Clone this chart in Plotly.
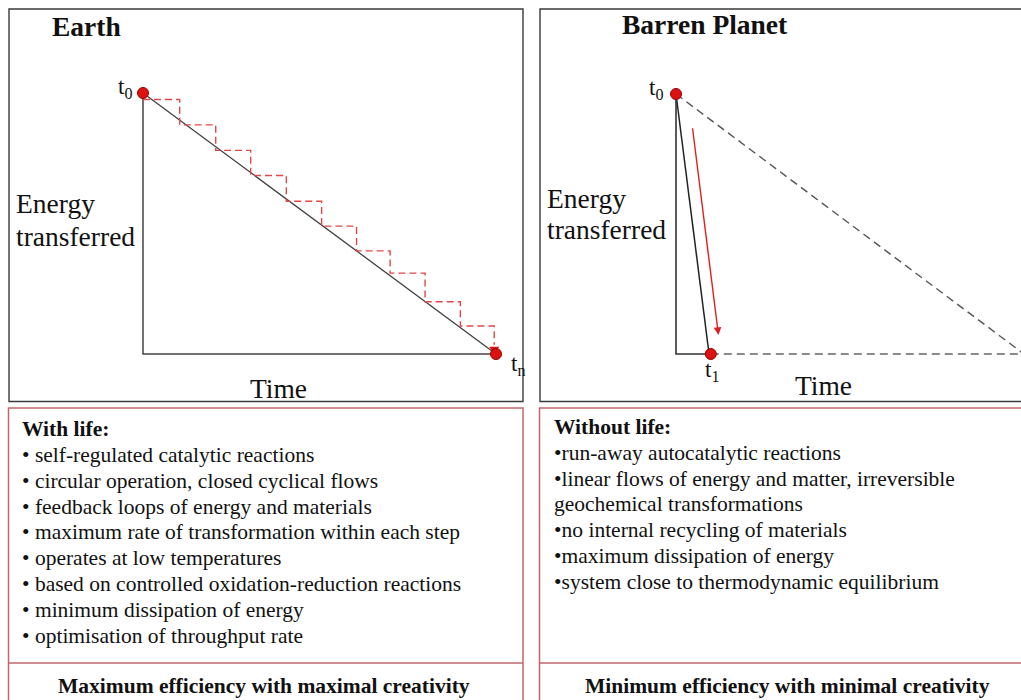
import plotly.graph_objects as go

W, H = 1021, 700

# ---------------- data ----------------
# Earth panel (time 0..10, energy 10..0)
earth_t0 = (0.0, 10.0)
earth_tn = (10.0, 0.0)
earth_step_x = [1.04, 2.06, 3.05, 4.06, 5.06, 6.05, 7.0, 7.99, 8.99, 9.95]
earth_step_y = [9.75, 8.78, 7.8, 6.84, 5.85, 4.9, 3.95, 3.1, 2.0, 1.07]
earth_arrow_end_y = 0.35
earth_arrow_tip_y = 0.19

# Barren planet panel
barren_t0 = (0.0, 10.0)
barren_t1 = (1.0, 0.0)
barren_far = (10.0, 0.0)
barren_arrow_start = (0.47, 8.74)
barren_arrow_end = (1.22, 0.73)

with_life_title = "With life:"
with_life_items = [
    "• self-regulated catalytic reactions",
    "• circular operation, closed cyclical flows",
    "• feedback loops of energy and materials",
    "• maximum rate of transformation within each step",
    "• operates at low temperatures",
    "• based on controlled oxidation-reduction reactions",
    "• minimum dissipation of energy",
    "• optimisation of throughput rate",
]
without_life_title = "Without life:"
without_life_items = [
    "•run-away autocatalytic reactions",
    "•linear flows of energy and matter, irreversible",
    "geochemical transformations",
    "•no internal recycling of materials",
    "•maximum dissipation of energy",
    "•system close to thermodynamic equilibrium",
]
left_summary = "Maximum efficiency with maximal creativity"
right_summary = "Minimum efficiency with minimal creativity"

# ---------------- styles ----------------
FONT = "Liberation Serif"
TXT = "#111111"
RED = "#dd1111"
RED_DASH = "#e04848"
BOX_TOP = "#3a3a3a"
BOX_BOT = "#c4656e"
BODY = 21.5
BIG = 27.5


def px(x):
    return x / W


def py(y):
    return 1 - y / H


fig = go.Figure()

# ---- Earth panel traces (axes x / y) ----
lx0, lsx = 143.0, 35.3
ly0, lsy = 354.0, 26.1

fig.add_trace(go.Scatter(
    x=[earth_t0[0], earth_t0[0], earth_tn[0]], y=[earth_t0[1], 0, earth_tn[1]],
    mode="lines", line=dict(color="#444444", width=1.5), xaxis="x", yaxis="y",
    hoverinfo="skip"))
fig.add_trace(go.Scatter(
    x=[earth_t0[0], earth_tn[0]], y=[earth_t0[1], earth_tn[1]],
    mode="lines", line=dict(color="#404040", width=1.3), xaxis="x", yaxis="y",
    hoverinfo="skip"))

sx, sy = [earth_t0[0]], [earth_step_y[0]]
for i in range(len(earth_step_x)):
    sx += [earth_step_x[i], earth_step_x[i]]
    nxt = earth_step_y[i + 1] if i + 1 < len(earth_step_y) else earth_arrow_end_y
    sy += [earth_step_y[i], nxt]
fig.add_trace(go.Scatter(
    x=sx, y=sy, mode="lines",
    line=dict(color=RED_DASH, width=1.4, dash="7px,4px"), xaxis="x", yaxis="y",
    hoverinfo="skip"))
fig.add_trace(go.Scatter(
    x=[earth_step_x[-1]], y=[earth_arrow_tip_y], mode="markers",
    marker=dict(symbol="triangle-down", size=9, color=RED, line=dict(width=0)),
    xaxis="x", yaxis="y", cliponaxis=False, hoverinfo="skip"))
fig.add_trace(go.Scatter(
    x=[earth_t0[0], earth_tn[0]], y=[earth_t0[1], earth_tn[1]], mode="markers",
    marker=dict(size=11, color=RED, line=dict(color="#990000", width=1)),
    xaxis="x", yaxis="y", cliponaxis=False, hoverinfo="skip"))

# ---- Barren planet traces (axes x2 / y2) ----
rx0, rsx = 676.0, 34.8
ry0, rsy = 354.0, 26.0

fig.add_trace(go.Scatter(
    x=[barren_t1[0], barren_far[0]], y=[barren_t1[1], barren_far[1]],
    mode="lines", line=dict(color="#666666", width=1.5, dash="8px,5px"),
    xaxis="x2", yaxis="y2", hoverinfo="skip"))
fig.add_trace(go.Scatter(
    x=[barren_t0[0], barren_far[0]], y=[barren_t0[1], barren_far[1]],
    mode="lines", line=dict(color="#555555", width=1.4, dash="8px,5px"),
    xaxis="x2", yaxis="y2", hoverinfo="skip"))
fig.add_trace(go.Scatter(
    x=[barren_t0[0], barren_t0[0], barren_t1[0]], y=[barren_t0[1], 0, barren_t1[1]],
    mode="lines", line=dict(color="#333333", width=1.6),
    xaxis="x2", yaxis="y2", hoverinfo="skip"))
fig.add_trace(go.Scatter(
    x=[barren_t0[0], barren_t1[0] - 0.05], y=[barren_t0[1], barren_t1[1]],
    mode="lines", line=dict(color="#222222", width=1.5),
    xaxis="x2", yaxis="y2", hoverinfo="skip"))
fig.add_trace(go.Scatter(
    x=[barren_t0[0], barren_t1[0]], y=[barren_t0[1], barren_t1[1]], mode="markers",
    marker=dict(size=11, color=RED, line=dict(color="#990000", width=1)),
    xaxis="x2", yaxis="y2", cliponaxis=False, hoverinfo="skip"))

annotations = []
annotations.append(dict(
    x=barren_arrow_end[0], y=barren_arrow_end[1], ax=barren_arrow_start[0],
    ay=barren_arrow_start[1], xref="x2", yref="y2", axref="x2", ayref="y2",
    text="", showarrow=True, arrowhead=2, arrowsize=1.1, arrowwidth=1.4,
    arrowcolor="#e02020", standoff=0, startstandoff=0))


def ann(text, x, y, size, xanchor="left", bold=False):
    if bold:
        text = "<b>" + text + "</b>"
    annotations.append(dict(
        text=text, x=px(x), y=py(y), xref="paper", yref="paper",
        xanchor=xanchor, yanchor="middle", showarrow=False,
        font=dict(family=FONT, size=size, color=TXT)))


# titles & labels
ann("Earth", 86, 26, BIG, "center", bold=True)
ann("Barren Planet", 705, 25, BIG, "center", bold=True)
ann("t<sub>0</sub>", 134, 88, 23, "right")
ann("t<sub>0</sub>", 665, 89, 23, "right")
ann("t<sub>n</sub>", 509, 365, 23, "left")
ann("t<sub>1</sub>", 712, 371, 23, "center")
ann("Energy", 14, 204, BIG)
ann("transferred", 14, 236, BIG)
ann("Energy", 545, 199, BIG)
ann("transferred", 545, 230, BIG)
ann("Time", 278, 388, BIG, "center")
ann("Time", 823, 385, BIG, "center")

# bottom text blocks
ann(with_life_title, 20, 429, BODY, bold=True)
for i, t in enumerate(with_life_items):
    ann(t, 20, 429 + (i + 1) * 25.85, BODY)
ann(without_life_title, 552, 427, BODY, bold=True)
for i, t in enumerate(without_life_items):
    ann(t, 552, 427 + (i + 1) * 25.8, BODY)
ann(left_summary, 264, 686, BODY, "center", bold=True)
ann(right_summary, 787, 686, BODY, "center", bold=True)

# boxes
shapes = []


def box(x0, y0, x1, y1, color, width):
    shapes.append(dict(type="rect", xref="paper", yref="paper",
                       x0=px(x0), x1=px(x1), y0=py(y1), y1=py(y0),
                       line=dict(color=color, width=width), fillcolor="rgba(0,0,0,0)",
                       layer="above"))


def hline(x0, x1, y, color, width):
    shapes.append(dict(type="line", xref="paper", yref="paper",
                       x0=px(x0), x1=px(x1), y0=py(y), y1=py(y),
                       line=dict(color=color, width=width), layer="above"))


box(9, 9, 523, 401.5, BOX_TOP, 1.4)
box(540, 9, 1040, 401.5, BOX_TOP, 1.4)
box(8.5, 408, 523, 720, BOX_BOT, 1.5)
box(539.5, 408, 1040, 720, BOX_BOT, 1.5)
hline(8.5, 523, 663, BOX_BOT, 1.5)
hline(539.5, 1040, 663, BOX_BOT, 1.5)


def xrng(p0, p1, o, s):
    return [(p0 - o) / s, (p1 - o) / s]


def yrng(p0, p1, o, s):
    return [(o - p1) / s, (o - p0) / s]


hidden = dict(visible=False, showgrid=False, zeroline=False, fixedrange=True)
fig.update_layout(
    width=W, height=H, autosize=False,
    margin=dict(l=0, r=0, t=0, b=0),
    paper_bgcolor="white", plot_bgcolor="rgba(0,0,0,0)",
    showlegend=False,
    xaxis=dict(domain=[px(10), px(522)], range=xrng(10, 522, lx0, lsx), **hidden),
    yaxis=dict(domain=[py(401), py(10)], range=yrng(10, 401, ly0, lsy), **hidden),
    xaxis2=dict(domain=[px(541), px(1021)], range=xrng(541, 1021, rx0, rsx),
                anchor="y2", **hidden),
    yaxis2=dict(domain=[py(401), py(10)], range=yrng(10, 401, ry0, rsy),
                anchor="x2", **hidden),
    annotations=annotations,
    shapes=shapes,
)

fig.write_html(
    "out.html",
    config={"displayModeBar": False},
    post_script="document.body.style.margin='0';document.body.style.overflow='hidden';",
)
